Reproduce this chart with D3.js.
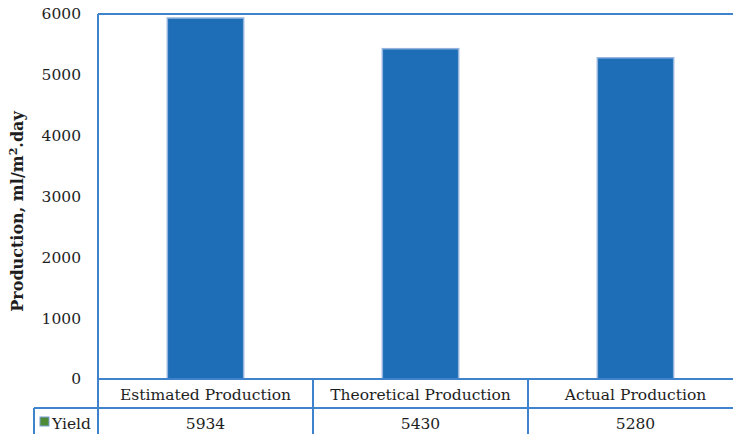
<!DOCTYPE html>
<html>
<head>
<meta charset="utf-8">
<script src="https://cdn.jsdelivr.net/npm/d3@7"></script>
<style>
  html, body { margin: 0; padding: 0; background: #fff; }
  svg { display: block; }
  text { font-family: "DejaVu Serif", "Liberation Serif", serif; fill: #1e1e1e; }
</style>
</head>
<body>
<svg id="chart" width="733" height="434"></svg>
<script>
// Production figures per method
const categories = ["Estimated Production", "Theoretical Production", "Actual Production"];
const yieldValues = [5934, 5430, 5280];
const seriesName = "Yield";
const yTicks = [0, 1000, 2000, 3000, 4000, 5000, 6000];

const W = 733, H = 434;
const plot = { left: 98, top: 14, right: 743, bottom: 379 };
const rowH = 29;
const lineColor = "#3f83cc";
const fontSize = "15.5px";

const svg = d3.select("#chart");

const x = d3.scaleBand()
  .domain(categories)
  .range([plot.left, plot.right])
  .paddingInner(0).paddingOuter(0);

const y = d3.scaleLinear()
  .domain([0, 6000])
  .range([plot.bottom, plot.top]);

// Bars
const barW = x.bandwidth() * 0.355;
svg.append("g").selectAll("rect")
  .data(categories.map((c, i) => ({ c, v: yieldValues[i] })))
  .join("rect")
  .attr("x", d => x(d.c) + (x.bandwidth() - barW) / 2)
  .attr("y", d => y(d.v))
  .attr("width", barW)
  .attr("height", d => y(0) - y(d.v))
  .attr("fill", "#1d6eb7")
  .attr("stroke", "#93b3df")
  .attr("stroke-width", 1.5);

// Y axis with tick labels
const yAxis = svg.append("g")
  .attr("transform", `translate(${plot.left},0)`)
  .call(d3.axisLeft(y).tickValues(yTicks).tickSize(0).tickPadding(17).tickFormat(d3.format("d")));
yAxis.select(".domain").remove();
yAxis.selectAll("text")
  .style("font-size", fontSize)
  .style("font-family", "'DejaVu Serif', serif")
  .attr("fill", "#1e1e1e");

// Plot frame: left edge and top edge
svg.append("line")
  .attr("x1", plot.left).attr("x2", plot.left)
  .attr("y1", plot.top).attr("y2", plot.bottom + rowH * 2)
  .attr("stroke", lineColor).attr("stroke-width", 2);
svg.append("line")
  .attr("x1", plot.left).attr("x2", W)
  .attr("y1", plot.top).attr("y2", plot.top)
  .attr("stroke", lineColor).attr("stroke-width", 2);

// Data table beneath the plot
const table = svg.append("g");
table.append("line")
  .attr("x1", plot.left).attr("x2", W)
  .attr("y1", plot.bottom).attr("y2", plot.bottom)
  .attr("stroke", lineColor).attr("stroke-width", 2);
table.append("line")
  .attr("x1", 34).attr("x2", W)
  .attr("y1", plot.bottom + rowH).attr("y2", plot.bottom + rowH)
  .attr("stroke", lineColor).attr("stroke-width", 2);
table.append("line")
  .attr("x1", 34).attr("x2", 34)
  .attr("y1", plot.bottom + rowH).attr("y2", H)
  .attr("stroke", lineColor).attr("stroke-width", 2);
categories.slice(1).forEach(c => {
  table.append("line")
    .attr("x1", x(c)).attr("x2", x(c))
    .attr("y1", plot.bottom).attr("y2", H)
    .attr("stroke", lineColor).attr("stroke-width", 2);
});

table.selectAll("text.cat")
  .data(categories)
  .join("text")
  .attr("class", "cat")
  .attr("x", d => x(d) + x.bandwidth() / 2)
  .attr("y", plot.bottom + rowH / 2 + 6)
  .attr("text-anchor", "middle")
  .style("font-size", fontSize)
  .text(d => d);

table.selectAll("text.val")
  .data(yieldValues)
  .join("text")
  .attr("class", "val")
  .attr("x", (d, i) => x(categories[i]) + x.bandwidth() / 2)
  .attr("y", plot.bottom + rowH + rowH / 2 + 6)
  .attr("text-anchor", "middle")
  .style("font-size", fontSize)
  .text(d => d);

// Series key in the table's row header
table.append("rect")
  .attr("x", 40).attr("y", plot.bottom + rowH + 9)
  .attr("width", 9).attr("height", 9)
  .attr("fill", "#4f8a36").attr("stroke", "#7aa0d6").attr("stroke-width", 1);
table.append("text")
  .attr("x", 52).attr("y", plot.bottom + rowH + rowH / 2 + 6)
  .style("font-size", fontSize)
  .text(seriesName);

// Y axis title
svg.append("text")
  .attr("transform", `translate(23,${(plot.top + plot.bottom) / 2 + 15}) rotate(-90)`)
  .attr("text-anchor", "middle")
  .style("font-size", "16px")
  .style("font-weight", "bold")
  .html("Production, ml/m<tspan baseline-shift='super' font-size='11px'>2</tspan>.day");
</script>
</body>
</html>
